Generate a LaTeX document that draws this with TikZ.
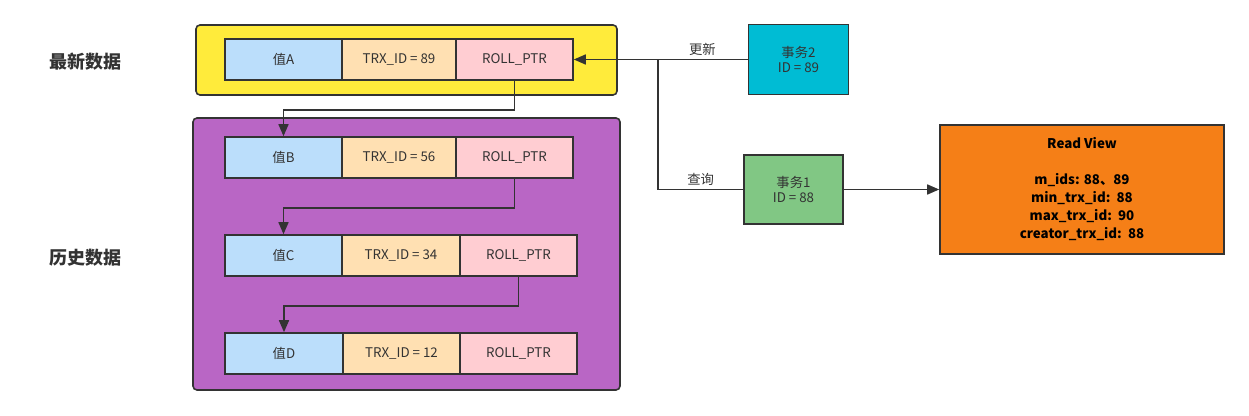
\documentclass[tikz,border=0pt]{standalone}
\usepackage{fontspec}
\setmainfont{Noto Sans CJK SC}
\usetikzlibrary{arrows.meta}

\definecolor{ink}{RGB}{51,51,51}
\definecolor{newest}{RGB}{255,235,59}
\definecolor{history}{RGB}{185,102,197}
\definecolor{valfill}{RGB}{187,222,251}
\definecolor{trxfill}{RGB}{255,224,178}
\definecolor{ptrfill}{RGB}{255,205,210}
\definecolor{trxtwo}{RGB}{0,188,212}
\definecolor{trxone}{RGB}{129,199,132}
\definecolor{readview}{RGB}{245,127,23}

\begin{document}
\begin{tikzpicture}[x=0.75pt, y=-0.75pt,
  groupbox/.style={draw=ink, line width=1.2pt, rounded corners=3pt, inner sep=0pt},
  cell/.style={draw=ink, line width=1.2pt, inner sep=0pt, minimum height=30.75pt, text=ink, font=\fontsize{10}{12}\selectfont},
  trxbox/.style={draw=ink, line width=1.2pt, inner sep=0pt, align=center, text=ink, font=\fontsize{10}{11.25}\selectfont},
  title/.style={font=\fontsize{13.5}{16}\selectfont\bfseries, text=ink},
  tag/.style={font=\fontsize{10}{12}\selectfont, text=ink, inner sep=2pt},
  link/.style={draw=ink, line width=1.2pt, -{Triangle[length=9pt, width=7.5pt]}},
  wire/.style={draw=ink, line width=1.2pt}]

\useasboundingbox (0,0) rectangle (1249,416);

% ── Group frames ──
\node[groupbox, fill=newest, minimum width=315.75pt, minimum height=52.5pt] (latest) at (406.5, 60) {};
\node[groupbox, fill=history, minimum width=320.25pt, minimum height=204pt] (older) at (406.5, 254) {};

\node[title] (latestlabel) at (85, 62) {最新数据};
\node[title] (olderlabel) at (85, 258) {历史数据};

% ── Version rows: name / top / trx id / splits ──
\foreach \r/\yt/\tid/\xa/\xb in {A/39/89/342/573, B/137/56/342/573, C/235/34/342/577, D/333/12/343/577} {
  \pgfmathsetmacro{\yc}{\yt + 20.5}
  \pgfmathsetmacro{\wv}{(\xa - 225)*0.75}
  \pgfmathsetmacro{\wt}{(\xb - 117 - \xa)*0.75}
  \node[cell, fill=valfill, minimum width=\wv pt] (val\r) at ({(225 + \xa)/2}, \yc) {值\r};
  \node[cell, fill=trxfill, minimum width=\wt pt] (trx\r) at ({(\xa + \xb - 117)/2}, \yc) {TRX\_ID = \tid};
  \node[cell, fill=ptrfill, minimum width=87.75pt] (ptr\r) at ({\xb - 58.5}, \yc) {ROLL\_PTR};
}

% ── Undo chain ──
\draw[link] (ptrA.south) -- ++(0,29) -| (valB.north);
\draw[link] (ptrB.south) -- ++(0,29) -| (valC.north);
\draw[link] (ptrC.south) -- ++(0,29) -| (valD.north);

% ── Transactions ──
\node[trxbox, fill=trxtwo, minimum width=75pt, minimum height=52.5pt] (txtwo) at (798.5, 59.5) {事务2\\ID = 89};
\node[trxbox, fill=trxone, minimum width=74.25pt, minimum height=51.75pt] (txone) at (793.5, 189.5) {事务1\\ID = 88};

\node[draw=ink, line width=1.2pt, fill=readview, minimum width=213pt, minimum height=96.75pt, align=center,
      font=\fontsize{10}{13.5}\selectfont\bfseries] (rview) at (1082, 189.5)
  {Read View\\[13.5pt]m\_ids: 88、89\\min\_trx\_id:~~88\\max\_trx\_id:~~90\\creator\_trx\_id:~~88};

\coordinate (fork) at (658, 59.5);
\draw[link] (txtwo.west) -- (ptrA.east) node[tag, pos=0.26, above] {更新};
\draw[wire] (fork) |- (txone.west) node[tag, pos=0.75, above] {查询};
\draw[link] (txone.east) -- (rview.west);

\end{tikzpicture}
\end{document}
